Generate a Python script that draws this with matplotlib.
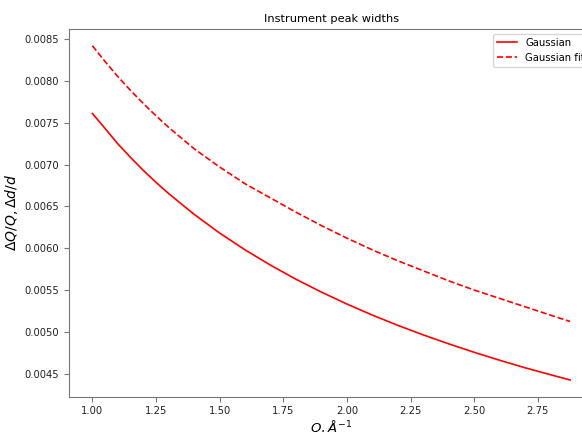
import matplotlib
matplotlib.use('Agg')
import matplotlib.pyplot as plt

# Q values (1/Angstrom) and peak widths
q = [1.0, 1.05, 1.1, 1.15, 1.2, 1.25, 1.3, 1.4, 1.5, 1.6, 1.7, 1.8, 1.9, 2.0,
     2.1, 2.2, 2.3, 2.4, 2.5, 2.6, 2.7, 2.8, 2.877]
gaussian = [0.00761, 0.00743, 0.007247, 0.007085, 0.00693, 0.006787,
            0.006652, 0.006404, 0.006181, 0.00598, 0.005797, 0.005629,
            0.005475, 0.005333, 0.005201, 0.005078, 0.004964, 0.004857,
            0.004756, 0.004661, 0.004571, 0.004488, 0.004425]
gaussian_fit = [0.00842, 0.00823, 0.008051, 0.007885, 0.007729, 0.007582,
                0.007443, 0.007188, 0.00697, 0.00677, 0.0066, 0.00643,
                0.00627, 0.00612, 0.00598, 0.00585, 0.00573, 0.00561,
                0.0055, 0.0054, 0.0053, 0.0052, 0.005124]

plt.rcParams['font.size'] = 7.2

fig = plt.figure(figsize=(5.82, 4.32), dpi=100)
# the axes run past the right edge of the figure, like the clipped original
ax = fig.add_axes([0.1177, 0.0817, 0.9029, 0.8512])

ax.plot(q, gaussian, color='red', lw=1.2, label='Gaussian')
ax.plot(q, gaussian_fit, color='red', lw=1.2, ls='--', label='Gaussian fit')

ax.set_title('Instrument peak widths', fontsize=8.2, pad=5)
ax.set_xlabel(r'$Q, \AA^{-1}$', fontsize=9.5, labelpad=1)
ax.set_ylabel(r'$\Delta Q/Q, \Delta d/d$', fontsize=10, labelpad=3)
ax.set_xticks([1.0, 1.25, 1.5, 1.75, 2.0, 2.25, 2.5, 2.75])
ax.set_yticks([0.0045, 0.005, 0.0055, 0.006, 0.0065, 0.007, 0.0075, 0.008, 0.0085])

for s in ax.spines.values():
    s.set_color('#777777')
ax.tick_params(colors='#777777', labelcolor='#222222', length=3.5, pad=3.5)

ax.legend(loc='upper right', fontsize=7.2)

fig.savefig('out.png', dpi=100)
